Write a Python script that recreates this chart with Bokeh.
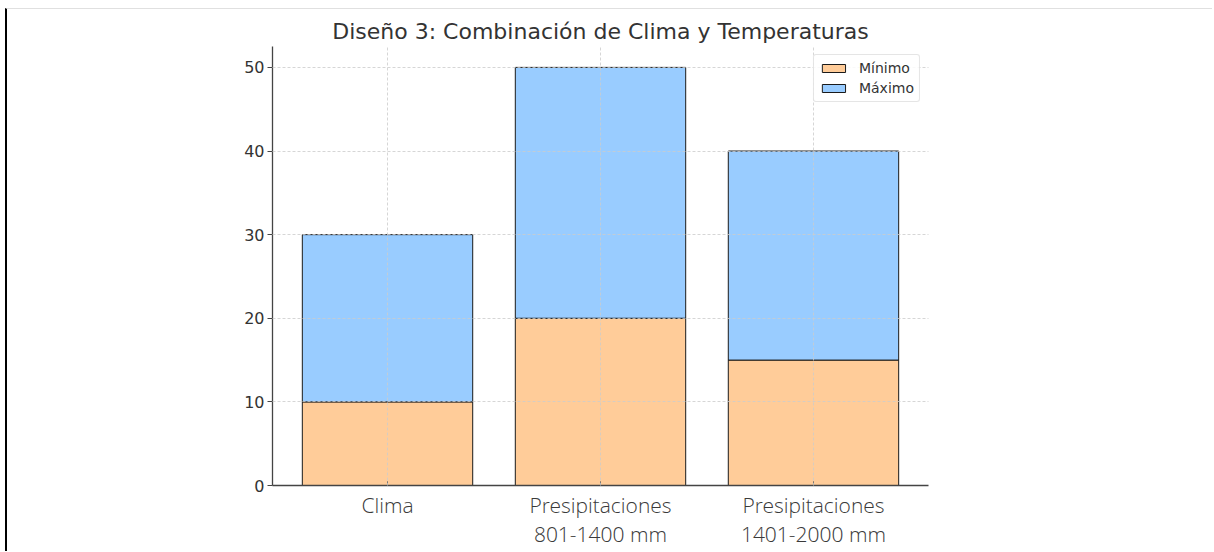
from bokeh.plotting import figure
from bokeh.models import FactorRange, Range1d, Legend, LegendItem, FixedTicker
from bokeh.embed import file_html
from bokeh.resources import INLINE

categories = ["Clima", "Presipitaciones\n801-1400 mm", "Presipitaciones\n1401-2000 mm"]
minimo = [10, 20, 15]
maximo = [30, 50, 40]
y_ticks = [0, 10, 20, 30, 40, 50]
title = "Diseño 3: Combinación de Clima y Temperaturas"
labels = ["Mínimo", "Máximo"]
colors = ["#ffcc99", "#99ccff"]

p = figure(width=1207, height=543,
           x_range=FactorRange(*categories, range_padding=0.04, range_padding_units="absolute"),
           y_range=Range1d(0, 52.5),
           output_backend="svg", toolbar_location=None,
           min_border_left=265, min_border_right=286,
           min_border_top=37, min_border_bottom=67)

p.styles = {"margin-left": "5px", "margin-top": "8px",
            "border-left": "2px solid #000000", "border-top": "1px solid #e0e0e0"}

r_min = p.vbar(x=categories, bottom=0, top=minimo, width=0.8,
               fill_color=colors[0], line_color="#1a1a1a", line_width=1)
r_max = p.vbar(x=categories, bottom=minimo, top=maximo, width=0.8,
               fill_color=colors[1], line_color="#1a1a1a", line_width=1)

p.title.text = title
p.title.align = "center"
p.title.text_font = "DejaVu Sans"
p.title.text_font_size = "22px"
p.title.text_font_style = "normal"
p.title.text_color = "#333333"
p.title.standoff = 5

p.outline_line_color = None
p.background_fill_color = "white"

for g in (p.xgrid, p.ygrid):
    g.grid_line_color = "#cccccc"
    g.grid_line_dash = "3 2"
    g.grid_line_width = 0.8
    g.level = "guide"
p.ygrid.ticker = FixedTicker(ticks=y_ticks)

p.yaxis.ticker = FixedTicker(ticks=y_ticks)
p.yaxis.minor_tick_line_color = None
p.yaxis.major_tick_out = 5
p.yaxis.major_tick_in = 0
p.yaxis.major_label_standoff = 3
p.yaxis.major_label_text_font = "DejaVu Sans"
p.yaxis.major_label_text_font_size = "16px"
p.yaxis.major_label_text_color = "#333333"
p.yaxis.axis_line_color = "#444444"
p.yaxis.axis_line_width = 1.3
p.yaxis.major_tick_line_color = "#444444"

p.xaxis.major_tick_in = 4
p.xaxis.major_tick_out = 0
p.xaxis.major_label_standoff = 5
p.xaxis.major_label_text_font = "'Open Sans Light', 'Open Sans'"
p.xaxis.major_label_text_font_size = "21px"
p.xaxis.major_label_text_color = "#3a3a3a"
p.xaxis.major_label_text_line_height = 1.07
p.xaxis.axis_line_color = "#444444"
p.xaxis.axis_line_width = 1.3
p.xaxis.major_tick_line_color = "#444444"
p.xaxis.major_label_orientation = "horizontal"

legend = Legend(items=[LegendItem(label=labels[0], renderers=[r_min]),
                       LegendItem(label=labels[1], renderers=[r_max])],
                location="top_right")
legend.label_text_font = "DejaVu Sans"
legend.label_text_font_size = "14px"
legend.label_text_color = "#333333"
legend.glyph_width = 29
legend.glyph_height = 10
legend.label_height = 16
legend.label_standoff = 11
legend.spacing = 4
legend.padding = 5
legend.margin = 8
legend.border_line_color = "#cccccc"
legend.border_radius = 3
legend.background_fill_alpha = 0.85
p.add_layout(legend)

open("out.html", "w").write(file_html(p, INLINE))
